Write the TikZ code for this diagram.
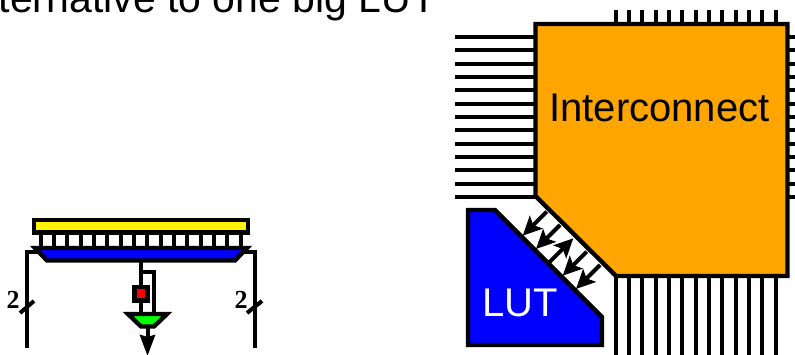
\documentclass[tikz,border=0pt]{standalone}
\usepackage{fontspec}
\setmainfont{Liberation Sans}
\newfontfamily\serifbold{Liberation Serif}
\usetikzlibrary{arrows.meta}
\definecolor{lutblue}{RGB}{0,0,255}
\definecolor{icorange}{RGB}{255,165,0}
\definecolor{pgreen}{RGB}{0,255,0}
\tikzset{
  thickbox/.style={draw=black,line width=4.4pt,line join=miter},
  wire/.style={draw=black,line width=4pt},
  busarrow/.style={draw=black,line width=4pt,-{Stealth[length=19pt,width=18pt,inset=4pt]}},
  biglabel/.style={inner sep=0pt,font=\fontsize{40}{40}\selectfont},
  buslabel/.style={inner sep=0pt,font=\serifbold\bfseries\fontsize{26}{26}\selectfont},
}
\begin{document}
\begin{tikzpicture}[x=1pt,y=-1pt]
\useasboundingbox (0,0) rectangle (795,355);
\node[anchor=base east,inner sep=0pt,font=\fontsize{41}{41}\selectfont] (title) at (436.5,12.5) {Alternative to one big LUT};
% --- left: LUT cell
\foreach \i in {0,...,15}{
  \draw[wire] (40.7+13.33*\i,233) -- (40.7+13.33*\i,247);
}
\draw[thickbox,fill=yellow] (34,220) rectangle (248,232.5);
\draw[thickbox,fill=lutblue] (35,248) -- (247,248) -- (235,260.5) -- (47,260.5) -- cycle;
\coordinate (lt) at (40,252.5);
\coordinate (lb) at (27,348);
\coordinate (rt) at (243,252.5);
\coordinate (rb) at (255,348);
\draw[wire] (lt) -- (27,252.5) -- (lb);
\draw[wire] (rt) -- (255,252.5) -- (rb);
\draw[wire] (20,313) -- (34,301);
\draw[wire] (247,313) -- (262,301);
\node[buslabel] (twoL) at (13,300) {2};
\node[buslabel] (twoR) at (241,300) {2};
\draw[wire] (140.7,262) -- (140.7,314);
\draw[wire] (140.7,272.5) -- (154.3,272.5) -- (154.3,314);
\draw[thickbox,fill=red] (134.5,287) rectangle (147.5,300.5);
\draw[thickbox,fill=pgreen] (128,314) -- (167,314) -- (154,326.5) -- (141,326.5) -- cycle;
\coordinate (mo) at (147.5,328);
\coordinate (mt) at (147.5,356);
\draw[draw=black,line width=4pt,-{Stealth[length=21pt,width=15pt,inset=2pt]}] (mo) -- (mt);
% --- right: interconnect
\foreach \i in {0,...,12}{
  \draw[wire] (455,37+13.33*\i) -- (536,37+13.33*\i);
  \draw[wire] (788,37+13.33*\i) -- (795,37+13.33*\i);
  \draw[wire] (615.7+13.33*\i,10) -- (615.7+13.33*\i,25);
  \draw[wire] (615.7+13.33*\i,276) -- (615.7+13.33*\i,355);
}
\draw[thickbox,fill=icorange] (535.5,24) -- (787.5,24) -- (787.5,276) -- (616,276) -- (535.5,196) -- cycle;
\node[biglabel] (ic) at (659.5,108) {Interconnect};
\draw[thickbox,fill=lutblue] (468,210) -- (495,210) -- (602,317) -- (602,345) -- (468,345) -- cycle;
\node[biglabel,text=white] (lut) at (520,303) {LUT};
\foreach \x in {546.7,560,586.7,600}{
  \draw[busarrow] (\x,\x-335) -- (\x-24,\x-311);
}
\draw[busarrow] (573.3-24,573.3-311) -- (573.3,573.3-335);
\end{tikzpicture}
\end{document}
